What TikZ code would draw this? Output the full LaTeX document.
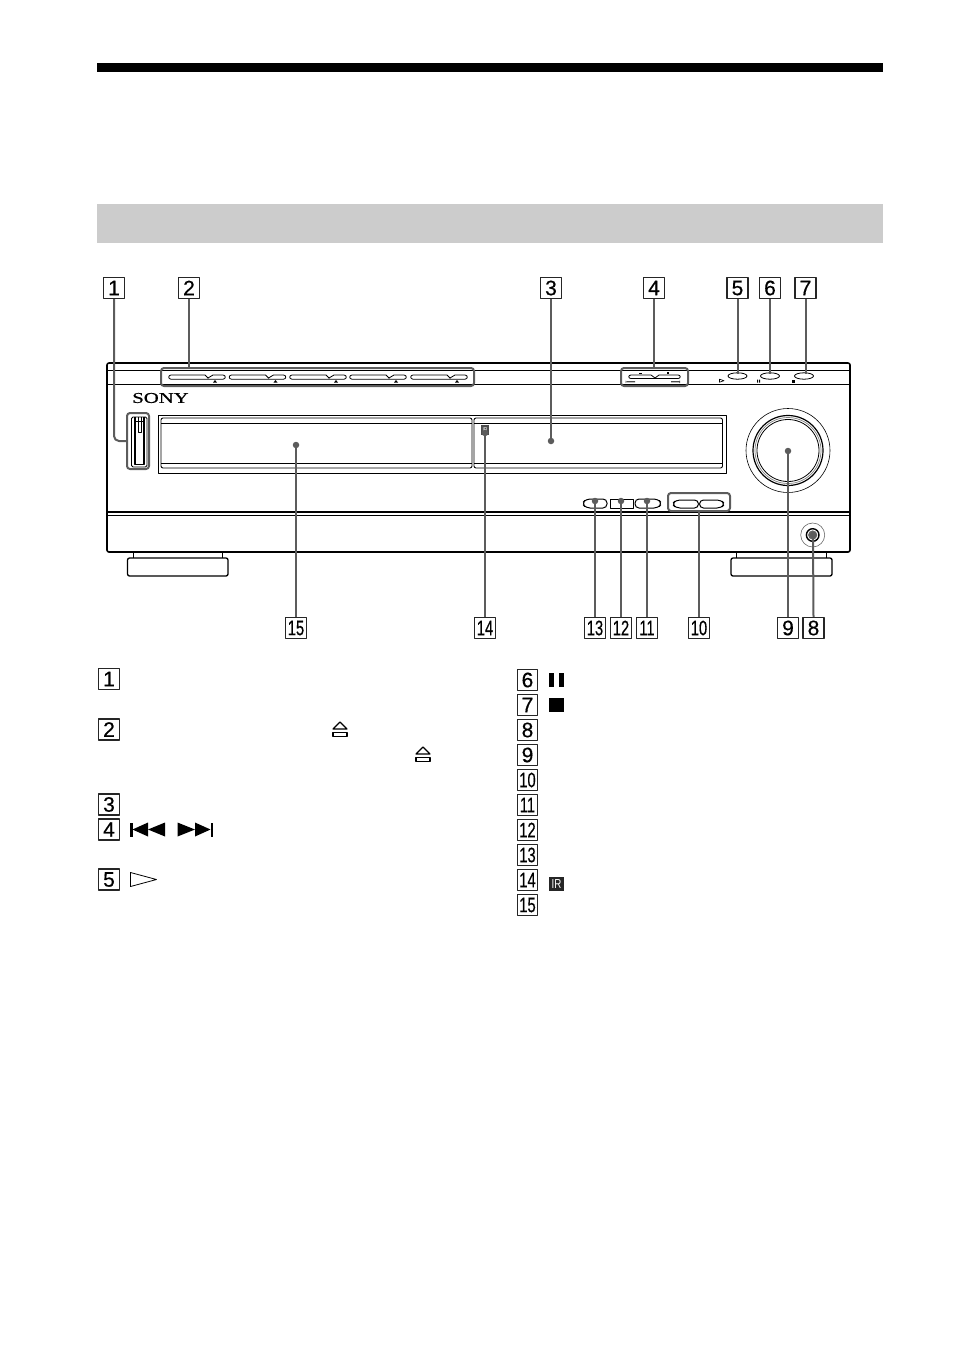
\documentclass[tikz,border=0pt]{standalone}
\usepackage{fontspec}
\usepackage{graphicx}
\setmainfont{Liberation Sans}
\newfontfamily\sonyfont{Liberation Serif}[FakeBold=0.6]
\newfontfamily\numfont{Liberation Sans}[FakeBold=0.5]
\usetikzlibrary{calc}
\definecolor{leadgrey}{gray}{0.36}
\definecolor{bandgrey}{gray}{0.80}
\newcommand{\twod}[1]{\scalebox{0.70}[1]{#1}}
\tikzset{
  numbox/.style={draw=black!85,line width=1.1pt,fill=white,minimum width=21pt,minimum height=21pt,inner sep=0pt,font=\numfont\fontsize{21}{21}\selectfont,text=black},
  numboxs/.style={numbox,minimum width=20.5pt},
  leader/.style={draw=leadgrey,line width=2pt},
  grpbox/.style={draw=leadgrey,line width=2pt,rounded corners=3pt,minimum height=18pt,inner sep=0pt},
  body/.style={draw=black,line width=1.6pt,rounded corners=2pt},
  thin line/.style={draw=black,line width=.9pt},
  keyline/.style={draw=black,line width=.8pt},
  ldot/.style={circle,fill=leadgrey,minimum size=6.5pt,inner sep=0pt},
}
\begin{document}
\begin{tikzpicture}[x=1pt,y=-1pt,line join=round]
\useasboundingbox (0,0) rectangle (954,1352);
% header
\fill[black] (97,63) rectangle (883,72);
\fill[bandgrey] (97,204) rectangle (883,243);

% feet
\draw[body,line width=1.3pt] (127.5,558) rectangle (228,576);
\draw[thin line] (133,552) -- (133,558) (222,552) -- (222,558);
\draw[body,line width=1.3pt] (731,558) rectangle (832,576);
\draw[thin line] (736,552) -- (736,558) (826,552) -- (826,558);

% cabinet
\draw[body] (107,363) rectangle (850,552);
\draw[thin line] (107,370.5) -- (850,370.5);
\draw[thin line] (107,384) -- (850,384);
\draw[draw=black,line width=1.5pt] (107,512) -- (850,512);
\draw[thin line] (107,515.5) -- (850,515.5);
\node[font=\sonyfont\fontsize{15}{15}\selectfont,xscale=1.38,inner sep=0pt] (sony) at (160.5,398) {SONY};

% disc keys
\foreach \x in {169,229.5,290,350,411}{
  \draw[keyline] (\x+2,375) -- (\x+36,375) -- (\x+39,378) -- (\x+44,375) -- (\x+54,375)
    .. controls (\x+57,375) and (\x+57,379.2) .. (\x+54,379.2) -- (\x+2,379.2)
    .. controls (\x-1,379.2) and (\x-1,375) .. (\x+2,375);
  \fill (\x+44,382.5) -- (\x+46,380) -- (\x+48,382.5) -- cycle;
}
\node[grpbox,minimum width=313pt] (grpdisc) at (317.5,377) {};

% skip keys
\draw[keyline] (631,375) -- (651,375) -- (655,378) -- (659,375) -- (678,375)
  .. controls (681,375) and (681,378.5) .. (678,378.5) -- (631,378.5)
  .. controls (628,378.5) and (628,375) .. (631,375);
\fill[black!70] (625.5,380.5) rectangle (626.2,383) (626.5,381.2) rectangle (635,382.3);
\fill[black!70] (671,381.2) rectangle (679,382.3) (679.3,380.5) rectangle (680,383);
\fill (639,372.8) rectangle (642,373.6);
\fill (667,372.4) rectangle (669,373.8);
\node[grpbox,minimum width=67pt] (grpskip) at (654.5,377) {};

% play, pause, stop keys
\foreach \x/\nm in {737.5/kplay,770/kpause,804/kstop}{
  \draw[keyline] (\x,376) ellipse (9.5 and 3.2);
  \coordinate (\nm) at (\x,374);
}
\draw[line width=.7pt] (719.5,379.2) -- (724,380.7) -- (719.5,382.2) -- cycle;
\fill (757,379.5) rectangle (758,382.5) (759,379.5) rectangle (760,382.5);
\fill (791.5,379.5) rectangle (795,382.5);

% power switch
\draw[draw=black!45,line width=.6pt] (131,469.5) -- (146,469.5);
\draw[draw=black,line width=.8pt,rounded corners=1.5pt] (131.5,417) rectangle (147,467);
\draw[draw=black,line width=1.8pt] (135,417) -- (135,464.5) -- (144,464.5) -- (144,417);
\draw[draw=black,line width=.6pt] (138,417) -- (138,432) -- (141.5,432) -- (141.5,417);
\draw[draw=black,line width=.6pt] (135,421) -- (144,421);
\node[grpbox,minimum width=22pt,minimum height=56pt] (grppower) at (138,441) {};

% display
\draw[thin line] (158,415) rectangle (726,473);
\draw[thin line,rounded corners=2pt] (161,418) rectangle (472,468);
\draw[thin line,rounded corners=2pt] (474,418) rectangle (722.5,468);
\draw[thin line] (161,423) -- (472,423) (161,463.5) -- (472,463.5);
\draw[thin line] (474,423) -- (722.5,423) (474,463.5) -- (722.5,463.5);
\node[fill=black!70,minimum width=8.5pt,minimum height=10pt,inner sep=0pt,font=\fontsize{7}{7}\selectfont,text=white] (irpanel) at (485,430) {\scalebox{0.7}[1]{IR}};

% small buttons
\draw[keyline,line width=1pt,rounded corners=4pt] (607,499) -- (586,499) -- (582,503.5) -- (586,508) -- (607,508) -- cycle;
\draw[keyline,line width=1pt] (610,499) rectangle (633,508);
\draw[keyline,line width=1pt,rounded corners=4pt] (635,499) -- (658,499) -- (662,503.5) -- (658,508) -- (635,508) -- cycle;
\draw[keyline,line width=1pt,rounded corners=4pt] (698.5,500) -- (676,500) -- (672,504) -- (676,508) -- (698.5,508) -- cycle;
\draw[keyline,line width=1pt,rounded corners=4pt] (699.5,500) -- (721,500) -- (725,504) -- (721,508) -- (699.5,508) -- cycle;
\node[grpbox,minimum width=62pt] (grpvol) at (699,502) {};

% knob
\draw[draw=black,line width=.6pt] (788,450.5) circle (42);
\draw[draw=black,line width=1.2pt] (788,450.5) circle (35);
\draw[draw=black!50,line width=.7pt] (788,450.5) circle (33);
\draw[draw=black,line width=.8pt] (788,450.5) circle (31);

% phones jack
\draw[draw=black!60,line width=.6pt] (812.7,535) circle (12);
\draw[draw=black,line width=1.4pt,fill=white] (812.7,535) circle (6.3);
\fill[black!60] (812.7,535) circle (4.6);

% target points
\coordinate (t3) at (551,441);
\coordinate (t15) at (296,445);
\coordinate (t14) at (485,433);
\coordinate (t9) at (788,451);
\coordinate (t8) at (813,535);
\coordinate (t13) at (595,501);
\coordinate (t12) at (621,501);
\coordinate (t11) at (647,501);

% callout number boxes
\node[numbox] (c1) at (114,288) {1};
\node[numbox] (c2) at (189,288) {2};
\node[numbox] (c3) at (551,288) {3};
\node[numbox] (c4) at (654,288) {4};
\node[numbox] (c5) at (737.5,288) {5};
\node[numbox] (c6) at (770,288) {6};
\node[numbox] (c7) at (805.5,288) {7};
\node[numbox] (c15) at (296,628) {\twod{15}};
\node[numbox] (c14) at (485,628) {\twod{14}};
\node[numbox] (c13) at (595,628) {\twod{13}};
\node[numbox] (c12) at (621,628) {\twod{12}};
\node[numbox] (c11) at (647,628) {\twod{11}};
\node[numbox] (c10) at (699,628) {\twod{10}};
\node[numbox] (c9) at (788,628) {9};
\node[numbox] (c8) at (813.5,628) {8};

% connectors
\draw[leader,rounded corners=5pt] (c1.south) |- (grppower.west);
\draw[leader] (c2.south) -- (c2.south |- grpdisc.north);
\draw[leader] (c3.south) -- (t3);
\draw[leader] (c4.south) -- (c4.south |- grpskip.north);
\draw[leader] (c5.south) -- (kplay);
\draw[leader] (c6.south) -- (kpause);
\draw[leader] (c7.south) -- (kstop -| c7.south);
\draw[leader] (c15.north) -- (t15);
\draw[leader] (c14.north) -- (t14);
\draw[leader] (c13.north) -- (t13);
\draw[leader] (c12.north) -- (t12);
\draw[leader] (c11.north) -- (t11);
\draw[leader] (c10.north) -- (c10.north |- grpvol.south);
\draw[leader] (c9.north) -- (t9);
\draw[leader] (c8.north) -- (t8);
\foreach \t in {t3,t15,t14,t9,t8,t13,t12,t11}{ \node[ldot] at (\t) {}; }

% legend, left column
\foreach \n/\y in {1/679,2/729.5,3/804.5,4/829.5,5/879.5}{
  \node[numbox] (l\n) at (109,\y) {\n};
}
% legend, right column
\foreach \n/\y in {6/680,7/705,8/730,9/755}{
  \node[numboxs] (l\n) at (527.5,\y) {\n};
}
\foreach \n/\y in {10/780,11/805,12/830,13/855,14/880,15/905}{
  \node[numboxs] (l\n) at (527.5,\y) {\twod{\n}};
}

% legend symbols
\draw[line width=1.1pt] (333,729) -- (340,722) -- (347,729) -- cycle;
\draw[line width=1.1pt] (333,732.5) rectangle (347,736.5);
\draw[line width=1.1pt] (416,754) -- (423,747) -- (430,754) -- cycle;
\draw[line width=1.1pt] (416,757.5) rectangle (430,761.5);
\fill (130,822.5) rectangle (132.5,836.5);
\fill (132.5,829.5) -- (148,822.5) -- (148,836.5) -- cycle;
\fill (148,829.5) -- (165,822.5) -- (165,836.5) -- cycle;
\fill (213,822.5) rectangle (210.5,836.5);
\fill (210.5,829.5) -- (195,822.5) -- (195,836.5) -- cycle;
\fill (195,829.5) -- (177.5,822.5) -- (177.5,836.5) -- cycle;
\draw[line width=.8pt] (130.5,872.5) -- (156.5,879.5) -- (130.5,886.5) -- cycle;
\fill (549,672.5) rectangle (554,687);
\fill (558.5,672.5) rectangle (564,687);
\fill (549,697.5) rectangle (564,712);
\node[fill=black!85,minimum width=15pt,minimum height=14.5pt,inner sep=0pt,font=\fontsize{13}{13}\selectfont,text=white] (irlegend) at (556.5,884) {\scalebox{0.75}[1]{IR}};
\end{tikzpicture}
\end{document}
